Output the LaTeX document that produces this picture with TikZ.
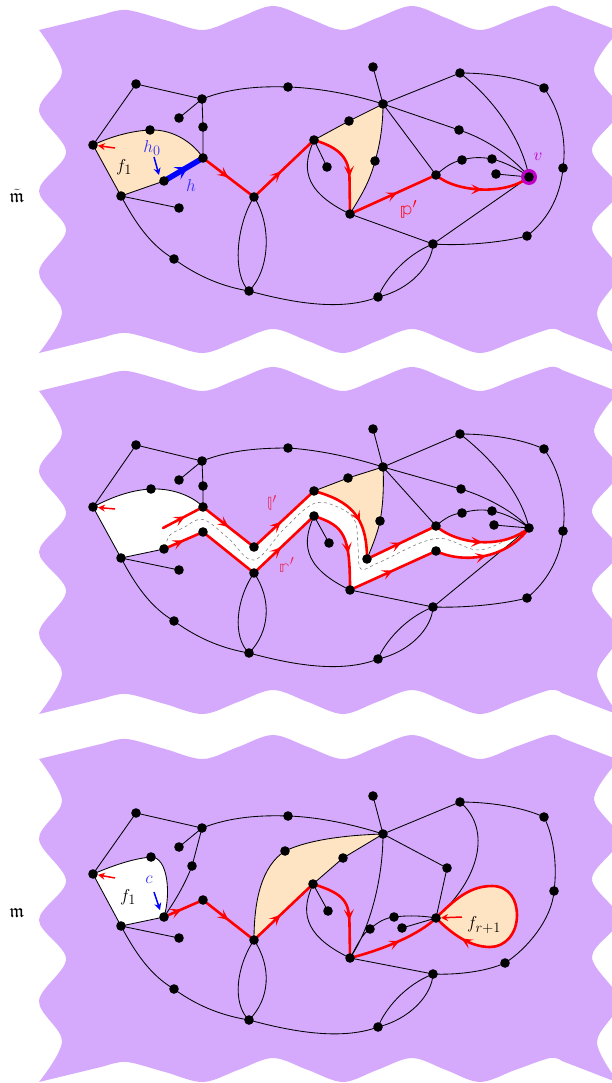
\documentclass[tikz,border=0pt]{standalone}
\usepackage{amssymb}
\usepackage{fontspec}
\newfontfamily\lmmath{latinmodern-math.otf}
\usetikzlibrary{arrows.meta,decorations.markings}
\definecolor{bgp}{RGB}{213,170,252}
\definecolor{bisq}{RGB}{255,228,196}
\definecolor{vmag}{RGB}{190,0,200}
\definecolor{lrcol}{RGB}{232,45,90}
\definecolor{lblue}{RGB}{50,50,250}
\newcommand\mybg{\fill[bgp] (39,30) -- plot[smooth,tension=0.55] coordinates {(105,14) (127,10) (165,20) (203,30) (238,18) (273,6) (308,18) (343,30) (377,18) (412,6) (446,18) (480,30) (515,18) (550,6) (562,9)} -- plot[smooth,tension=0.55] coordinates {(619,31) (594,70) (619,110) (592,150) (619,190) (592,228) (619,272) (597,313) (619,354)} -- plot[smooth,tension=0.55] coordinates {(562,332) (550,329) (515,341) (480,353) (446,341) (412,329) (377,341) (343,353) (308,341) (273,329) (238,341) (203,353) (165,343) (127,333) (105,337)} -- plot[smooth,tension=0.55] coordinates {(39,353) (62,312) (39,272) (66,230) (39,191) (66,152) (39,110) (62,72) (39,30)} -- cycle;}
\begin{document}
\begin{tikzpicture}[x=1pt,y=-1pt,
  edge/.style={black,line width=0.85pt},
  redp/.style={red,line width=2.6pt,line cap=round,line join=round},
  marr/.style={postaction={decorate,decoration={markings,mark=at position #1 with {\arrow{Stealth[length=11pt,width=10pt,inset=5pt]}}}}},
  marr/.default=0.5,
  barr/.style={postaction={decorate,decoration={markings,mark=at position #1 with {\arrow{Stealth[length=13pt,width=14pt,inset=6pt]}}}}},
  face/.style={fill=bisq},
  lab/.style={font=\fontsize{19pt}{22pt}\selectfont, inner sep=0pt},
  small/.style={line width=1.5pt,-{Stealth[length=7pt,width=7pt]}},
]
\useasboundingbox (0,0) rectangle (612,1083);

%================ PANEL 1 =================
\begin{scope}
\mybg
\coordinate (A1) at (136,84); \coordinate (B1) at (202,99); \coordinate (Bl1) at (179,118);
\coordinate (C1) at (203,127); \coordinate (D1) at (203,158); \coordinate (E1) at (150,130);
\coordinate (F1) at (93,145); \coordinate (G1) at (121,196); \coordinate (H1) at (164,181);
\coordinate (Gl1) at (179,208); \coordinate (I1) at (174,259); \coordinate (J1) at (254,197);
\coordinate (K1) at (249,291); \coordinate (L1) at (288,87); \coordinate (M1) at (314,140);
\coordinate (Ml1) at (327,167); \coordinate (N1) at (350,214); \coordinate (Tu1) at (349,121);
\coordinate (Tr1) at (375,161); \coordinate (Ot1) at (373,67); \coordinate (O1) at (383,104);
\coordinate (P1) at (460,73); \coordinate (Q1) at (544,88); \coordinate (R1) at (563,168);
\coordinate (S1) at (527,236); \coordinate (T1) at (433,244); \coordinate (U1) at (378,297);
\coordinate (V1) at (529,177); \coordinate (W1) at (459,130); \coordinate (X1) at (436,175);
\coordinate (Y1) at (462,160); \coordinate (Z1) at (492,159); \coordinate (Zl1) at (496,174);
\fill[face] (F1) .. controls (110,137) and (130,131) .. (E1) .. controls (175,129) and (195,145) .. (D1) -- (H1) -- (G1) -- cycle;
\fill[face] (M1) -- (Tu1) -- (O1) .. controls (383,125) and (380,145) .. (Tr1) .. controls (369,185) and (358,200) .. (N1) -- (349.5,178) .. controls (349,158) and (340,148) .. (M1) -- cycle;
\draw[edge] (F1)--(A1)--(B1) (B1)--(Bl1) (B1)--(C1)--(D1)
 (B1) .. controls (230,88) and (260,86) .. (L1) .. controls (320,88) and (355,95) .. (O1)
 (O1)--(Ot1) (O1)--(P1)
 (P1) .. controls (490,73) and (522,78) .. (Q1) .. controls (560,110) and (567,140) .. (R1) .. controls (560,200) and (545,222) .. (S1) .. controls (500,243) and (460,246) .. (T1)
 (T1)--(N1) (T1)--(V1)
 (T1) .. controls (405,255) and (385,280) .. (U1)
 (T1) .. controls (432,265) and (410,290) .. (U1)
 (O1)--(W1) (W1) .. controls (490,140) and (515,160) .. (V1)
 (O1)--(X1)
 (P1) .. controls (495,100) and (522,140) .. (V1)
 (X1) .. controls (445,167) and (452,162) .. (Y1) .. controls (472,157) and (482,157) .. (Z1) .. controls (505,162) and (520,170) .. (V1)
 (Zl1)--(V1)
 (M1)--(Ml1)
 (M1) .. controls (303,165) and (300,190) .. (N1)
 (J1) .. controls (236,225) and (232,275) .. (K1)
 (J1) .. controls (272,225) and (270,270) .. (K1)
 (G1) .. controls (135,222) and (150,245) .. (I1) .. controls (200,278) and (225,287) .. (K1) .. controls (290,302) and (340,312) .. (U1)
 (G1)--(Gl1)
 (F1) .. controls (110,137) and (130,131) .. (E1) .. controls (175,129) and (195,145) .. (D1)
 (H1)--(G1)--(F1)
 (M1)--(Tu1)--(O1) .. controls (383,125) and (380,145) .. (Tr1) .. controls (369,185) and (358,200) .. (N1);
\draw[redp,marr=0.5] (D1)--(J1);
\draw[redp,marr=0.45] (J1)--(M1);
\draw[redp,marr=0.6] (M1) .. controls (340,148) and (349,158) .. (349.5,178) -- (N1);
\draw[redp,marr=0.55] (N1)--(X1);
\draw[redp,marr=0.5] (X1) .. controls (455,192) and (505,196) .. (V1);
\draw[blue,line width=5.5pt,barr=0.62] (H1)--(D1);
\fill[vmag] (V1) circle (8);
\foreach \n in {A1,B1,Bl1,C1,D1,E1,F1,G1,H1,Gl1,I1,J1,K1,L1,M1,Ml1,N1,Tu1,Tr1,Ot1,O1,P1,Q1,R1,S1,T1,U1,V1,W1,X1,Y1,Z1,Zl1}
  \fill (\n) circle (4.8);
\coordinate (ra1) at (115,148); \draw[red,small,shorten >=5pt] (ra1) -- (F1);
\coordinate (ba1) at (154,157); \coordinate (bb1) at (159,175); \draw[blue,small] (ba1) -- (bb1);
\node[lab] (mt) at (17,196) {$\tilde{\mathfrak{m}}$};
\node[lab] (f1a) at (124,167) {$f_1$};
\node[lab,text=lblue] (h0) at (152,148) {$h_0$};
\node[lab,text=lblue] (hh) at (191,186) {$h$};
\node[lab,text=red] (pp) at (409,209) {{\lmmath 𝕡}$'$};
\node[lab,text=vmag] (vv) at (538,157) {$v$};
\end{scope}

%================ PANEL 2 =================
\begin{scope}[yshift=-361pt]
\mybg
\coordinate (A2) at (136,84); \coordinate (B2) at (202,100); \coordinate (Bl2) at (179,119);
\coordinate (C2) at (203,125); \coordinate (Du2) at (203,146); \coordinate (Dd2) at (203,171);
\coordinate (E2) at (151,128); \coordinate (F2) at (93,146); \coordinate (G2) at (121,197);
\coordinate (H2) at (164,188); \coordinate (Gl2) at (179,209); \coordinate (I2) at (174,260);
\coordinate (Ju2) at (254,186); \coordinate (Jd2) at (254,212); \coordinate (K2) at (249,292);
\coordinate (L2) at (288,87); \coordinate (Mu2) at (314,130); \coordinate (Md2) at (314,155);
\coordinate (Ml2) at (329,182); \coordinate (Nu2) at (367,198); \coordinate (Nd2) at (350,229);
\coordinate (Tu2) at (348,117); \coordinate (Tr2) at (380,160); \coordinate (Ot2) at (373,68);
\coordinate (O2) at (383,106); \coordinate (P2) at (460,73); \coordinate (Q2) at (544,88);
\coordinate (R2) at (563,170); \coordinate (S2) at (527,237); \coordinate (T2) at (433,246);
\coordinate (U2) at (378,298); \coordinate (V2) at (529,167); \coordinate (W2) at (461,128);
\coordinate (Xu2) at (436,165); \coordinate (Xd2) at (436,190); \coordinate (Y2) at (462,152);
\coordinate (Z2) at (492,150); \coordinate (Zl2) at (494,164); \coordinate (s2) at (163,167);
\fill[white] (F2) .. controls (110,137) and (130,129) .. (E2) .. controls (175,127) and (195,137) .. (Du2) -- (Ju2) -- (Mu2) .. controls (350,140) and (367,155) .. (Nu2) -- (Xu2) .. controls (455,182) and (500,190) .. (V2) .. controls (505,200) and (460,202) .. (Xd2) -- (Nd2) .. controls (350,175) and (345,165) .. (Md2) -- (Jd2) -- (Dd2) -- (H2) -- (G2) -- cycle;
\fill[face] (Mu2) -- (Tu2) -- (O2) .. controls (384,125) and (383,145) .. (Tr2) .. controls (377,175) and (370,190) .. (Nu2) .. controls (367,155) and (350,140) .. (Mu2) -- cycle;
\draw[gray,dashed,line width=0.6pt] plot[smooth,tension=0.6] coordinates {(165,186) (170,174) (183,167) (203,158.5) (228,177) (254,199) (284,168) (314,142.5) (340,147) (355,160) (358,185) (361,208) (380,201) (436,177.5) (480,189) (522,170)};
\draw[edge] (F2)--(A2)--(B2) (B2)--(Bl2) (B2)--(C2)--(Du2)
 (B2) .. controls (230,89) and (260,87) .. (L2) .. controls (320,89) and (355,97) .. (O2)
 (O2)--(Ot2) (O2)--(P2)
 (P2) .. controls (490,73) and (522,78) .. (Q2) .. controls (560,110) and (567,140) .. (R2) .. controls (560,200) and (545,222) .. (S2) .. controls (500,244) and (460,247) .. (T2)
 (T2)--(Nd2) (T2)--(V2)
 (T2) .. controls (405,257) and (385,281) .. (U2)
 (T2) .. controls (432,267) and (410,291) .. (U2)
 (O2)--(W2) (W2) .. controls (490,137) and (515,152) .. (V2)
 (O2)--(Xu2)
 (P2) .. controls (495,100) and (522,135) .. (V2)
 (Xu2) .. controls (445,157) and (452,153) .. (Y2) .. controls (472,149) and (482,148) .. (Z2) .. controls (505,152) and (520,160) .. (V2)
 (Zl2)--(V2)
 (Md2)--(Ml2)
 (Md2) .. controls (303,180) and (300,205) .. (Nd2)
 (Jd2) .. controls (236,238) and (232,276) .. (K2)
 (Jd2) .. controls (272,238) and (270,271) .. (K2)
 (G2) .. controls (135,223) and (150,246) .. (I2) .. controls (200,279) and (225,288) .. (K2) .. controls (290,303) and (340,313) .. (U2)
 (G2)--(Gl2)
 (F2) .. controls (110,137) and (130,129) .. (E2) .. controls (175,127) and (195,137) .. (Du2)
 (H2)--(G2)--(F2)
 (Mu2)--(Tu2)--(O2) .. controls (384,125) and (383,145) .. (Tr2) .. controls (377,175) and (370,190) .. (Nu2);
% l'
\draw[redp,marr=0.55] (s2)--(Du2);
\draw[redp,marr=0.5] (Du2)--(Ju2);
\draw[redp,marr=0.45] (Ju2)--(Mu2);
\draw[redp,marr=0.6] (Mu2) .. controls (350,140) and (367,155) .. (Nu2);
\draw[redp,marr=0.5] (Nu2)--(Xu2);
\draw[redp,marr=0.5] (Xu2) .. controls (455,182) and (500,190) .. (V2);
% r'
\draw[redp,marr=0.5] (H2)--(Dd2);
\draw[redp] (Dd2)--(Jd2);
\draw[redp,marr=0.45] (Jd2)--(Md2);
\draw[redp,marr=0.6] (Md2) .. controls (345,165) and (350,175) .. (Nd2);
\draw[redp,marr=0.5] (Nd2)--(Xd2);
\draw[redp,marr=0.5] (Xd2) .. controls (460,202) and (505,200) .. (V2);
\foreach \n in {A2,B2,Bl2,C2,Du2,Dd2,E2,F2,G2,H2,Gl2,I2,Ju2,Jd2,K2,L2,Mu2,Md2,Ml2,Nu2,Nd2,Tu2,Tr2,Ot2,O2,P2,Q2,R2,S2,T2,U2,V2,W2,Xu2,Xd2,Y2,Z2,Zl2}
  \fill (\n) circle (4.8);
\coordinate (ra2) at (115,148); \draw[red,small,shorten >=5pt] (ra2) -- (F2);
\node[lab,text=lrcol] (ll) at (272,142) {{\lmmath 𝕝}$'$};
\node[lab,text=lrcol] (rr) at (287,204) {{\lmmath 𝕣}$'$};
\end{scope}

%================ PANEL 3 =================
\begin{scope}[yshift=-729pt]
\mybg
\coordinate (A3) at (136,84); \coordinate (B3) at (202,99); \coordinate (Bl3) at (179,118);
\coordinate (C3) at (192,137); \coordinate (E3) at (151,128); \coordinate (F3) at (93,145);
\coordinate (G3) at (121,197); \coordinate (H3) at (164,188); \coordinate (Gl3) at (179,209);
\coordinate (I3) at (174,260); \coordinate (K3) at (249,291); \coordinate (L3) at (288,87);
\coordinate (D3) at (203,171); \coordinate (J3) at (254,211); \coordinate (Yv3) at (285,122);
\coordinate (Tu3) at (343,129); \coordinate (M3) at (313,155); \coordinate (Ml3) at (328,182);
\coordinate (N3) at (350,229); \coordinate (Ot3) at (373,67); \coordinate (O3) at (383,105);
\coordinate (P3) at (460,73); \coordinate (Q3) at (544,88); \coordinate (R3) at (554,162);
\coordinate (S3) at (505,234); \coordinate (T3) at (433,245); \coordinate (U3) at (378,298);
\coordinate (W3) at (447,139); \coordinate (X3) at (436,189); \coordinate (n13) at (394,188);
\coordinate (n23) at (370,200); \coordinate (n33) at (402,199);
\fill[white] (F3) .. controls (110,138) and (130,130) .. (E3) .. controls (168,128) and (171,165) .. (H3) -- (G3) -- cycle;
\fill[face] (J3) .. controls (254,170) and (262,137) .. (Yv3) .. controls (310,110) and (350,106) .. (O3) -- (Tu3) -- (M3) -- cycle;
\draw[edge] (F3)--(A3)--(B3) (B3)--(Bl3) (B3)--(C3) (C3) .. controls (183,160) and (172,176) .. (H3)
 (B3) .. controls (230,88) and (260,86) .. (L3) .. controls (320,88) and (355,96) .. (O3)
 (O3)--(Ot3) (O3)--(P3)
 (P3) .. controls (490,73) and (522,78) .. (Q3) .. controls (555,110) and (557,140) .. (R3) .. controls (552,190) and (527,220) .. (S3) .. controls (485,243) and (455,246) .. (T3)
 (T3)--(N3)
 (T3) .. controls (405,256) and (385,280) .. (U3)
 (T3) .. controls (432,266) and (410,290) .. (U3)
 (O3)--(W3)--(X3)
 (P3) .. controls (492,100) and (480,150) .. (X3)
 (O3) .. controls (383,150) and (370,200) .. (N3)
 (N3) .. controls (358,215) and (362,205) .. (n23) .. controls (378,193) and (385,189) .. (n13) .. controls (410,186) and (425,187) .. (X3)
 (n33)--(X3)
 (M3)--(Ml3)
 (M3) .. controls (302,180) and (300,205) .. (N3)
 (J3) .. controls (236,238) and (232,275) .. (K3)
 (J3) .. controls (272,238) and (270,270) .. (K3)
 (G3) .. controls (135,223) and (150,246) .. (I3) .. controls (200,279) and (225,287) .. (K3) .. controls (290,302) and (340,312) .. (U3)
 (G3)--(Gl3)
 (F3) .. controls (110,138) and (130,130) .. (E3) .. controls (168,128) and (171,165) .. (H3)
 (H3)--(G3)--(F3)
 (J3) .. controls (254,170) and (262,137) .. (Yv3) .. controls (310,110) and (350,106) .. (O3)
 (M3)--(Tu3)--(O3);
\fill[face] (X3) .. controls (455,170) and (470,157) .. (492,157) .. controls (510,157) and (517,172) .. (517,186) .. controls (517,205) and (505,218) .. (490,218) .. controls (470,218) and (452,205) .. (X3) -- cycle;
\draw[redp,marr=0.85] (X3) .. controls (455,170) and (470,157) .. (492,157) .. controls (510,157) and (517,172) .. (517,186) .. controls (517,205) and (505,218) .. (490,218) .. controls (470,218) and (452,205) .. (X3);
\draw[redp,marr=0.45] (H3)--(D3);
\draw[redp,marr=0.5] (D3)--(J3);
\draw[redp,marr=0.45] (J3)--(M3);
\draw[redp,marr=0.6] (M3) .. controls (345,165) and (349,173) .. (349.5,195) -- (N3);
\draw[redp,marr=0.55] (N3) .. controls (385,220) and (420,205) .. (X3);
\foreach \n in {A3,B3,Bl3,C3,E3,F3,G3,H3,Gl3,I3,K3,L3,D3,J3,Yv3,Tu3,M3,Ml3,N3,Ot3,O3,P3,Q3,R3,S3,T3,U3,W3,X3,n13,n23,n33}
  \fill (\n) circle (4.8);
\coordinate (ra3) at (115,149); \draw[red,small,shorten >=5pt] (ra3) -- (F3);
\coordinate (ca3) at (154,163); \coordinate (cb3) at (160,181); \draw[blue,small] (ca3) -- (cb3);
\coordinate (xa3) at (462,188); \draw[red,small,shorten >=5pt] (xa3) -- (X3);
\node[lab] (mm) at (17,184) {$\mathfrak{m}$};
\node[lab] (f1c) at (128,168) {$f_1$};
\node[lab,text=lblue] (cc) at (149,151) {$c$};
\node[lab] (fr) at (484,196) {$f_{r+1}$};
\end{scope}
\end{tikzpicture}
\end{document}
